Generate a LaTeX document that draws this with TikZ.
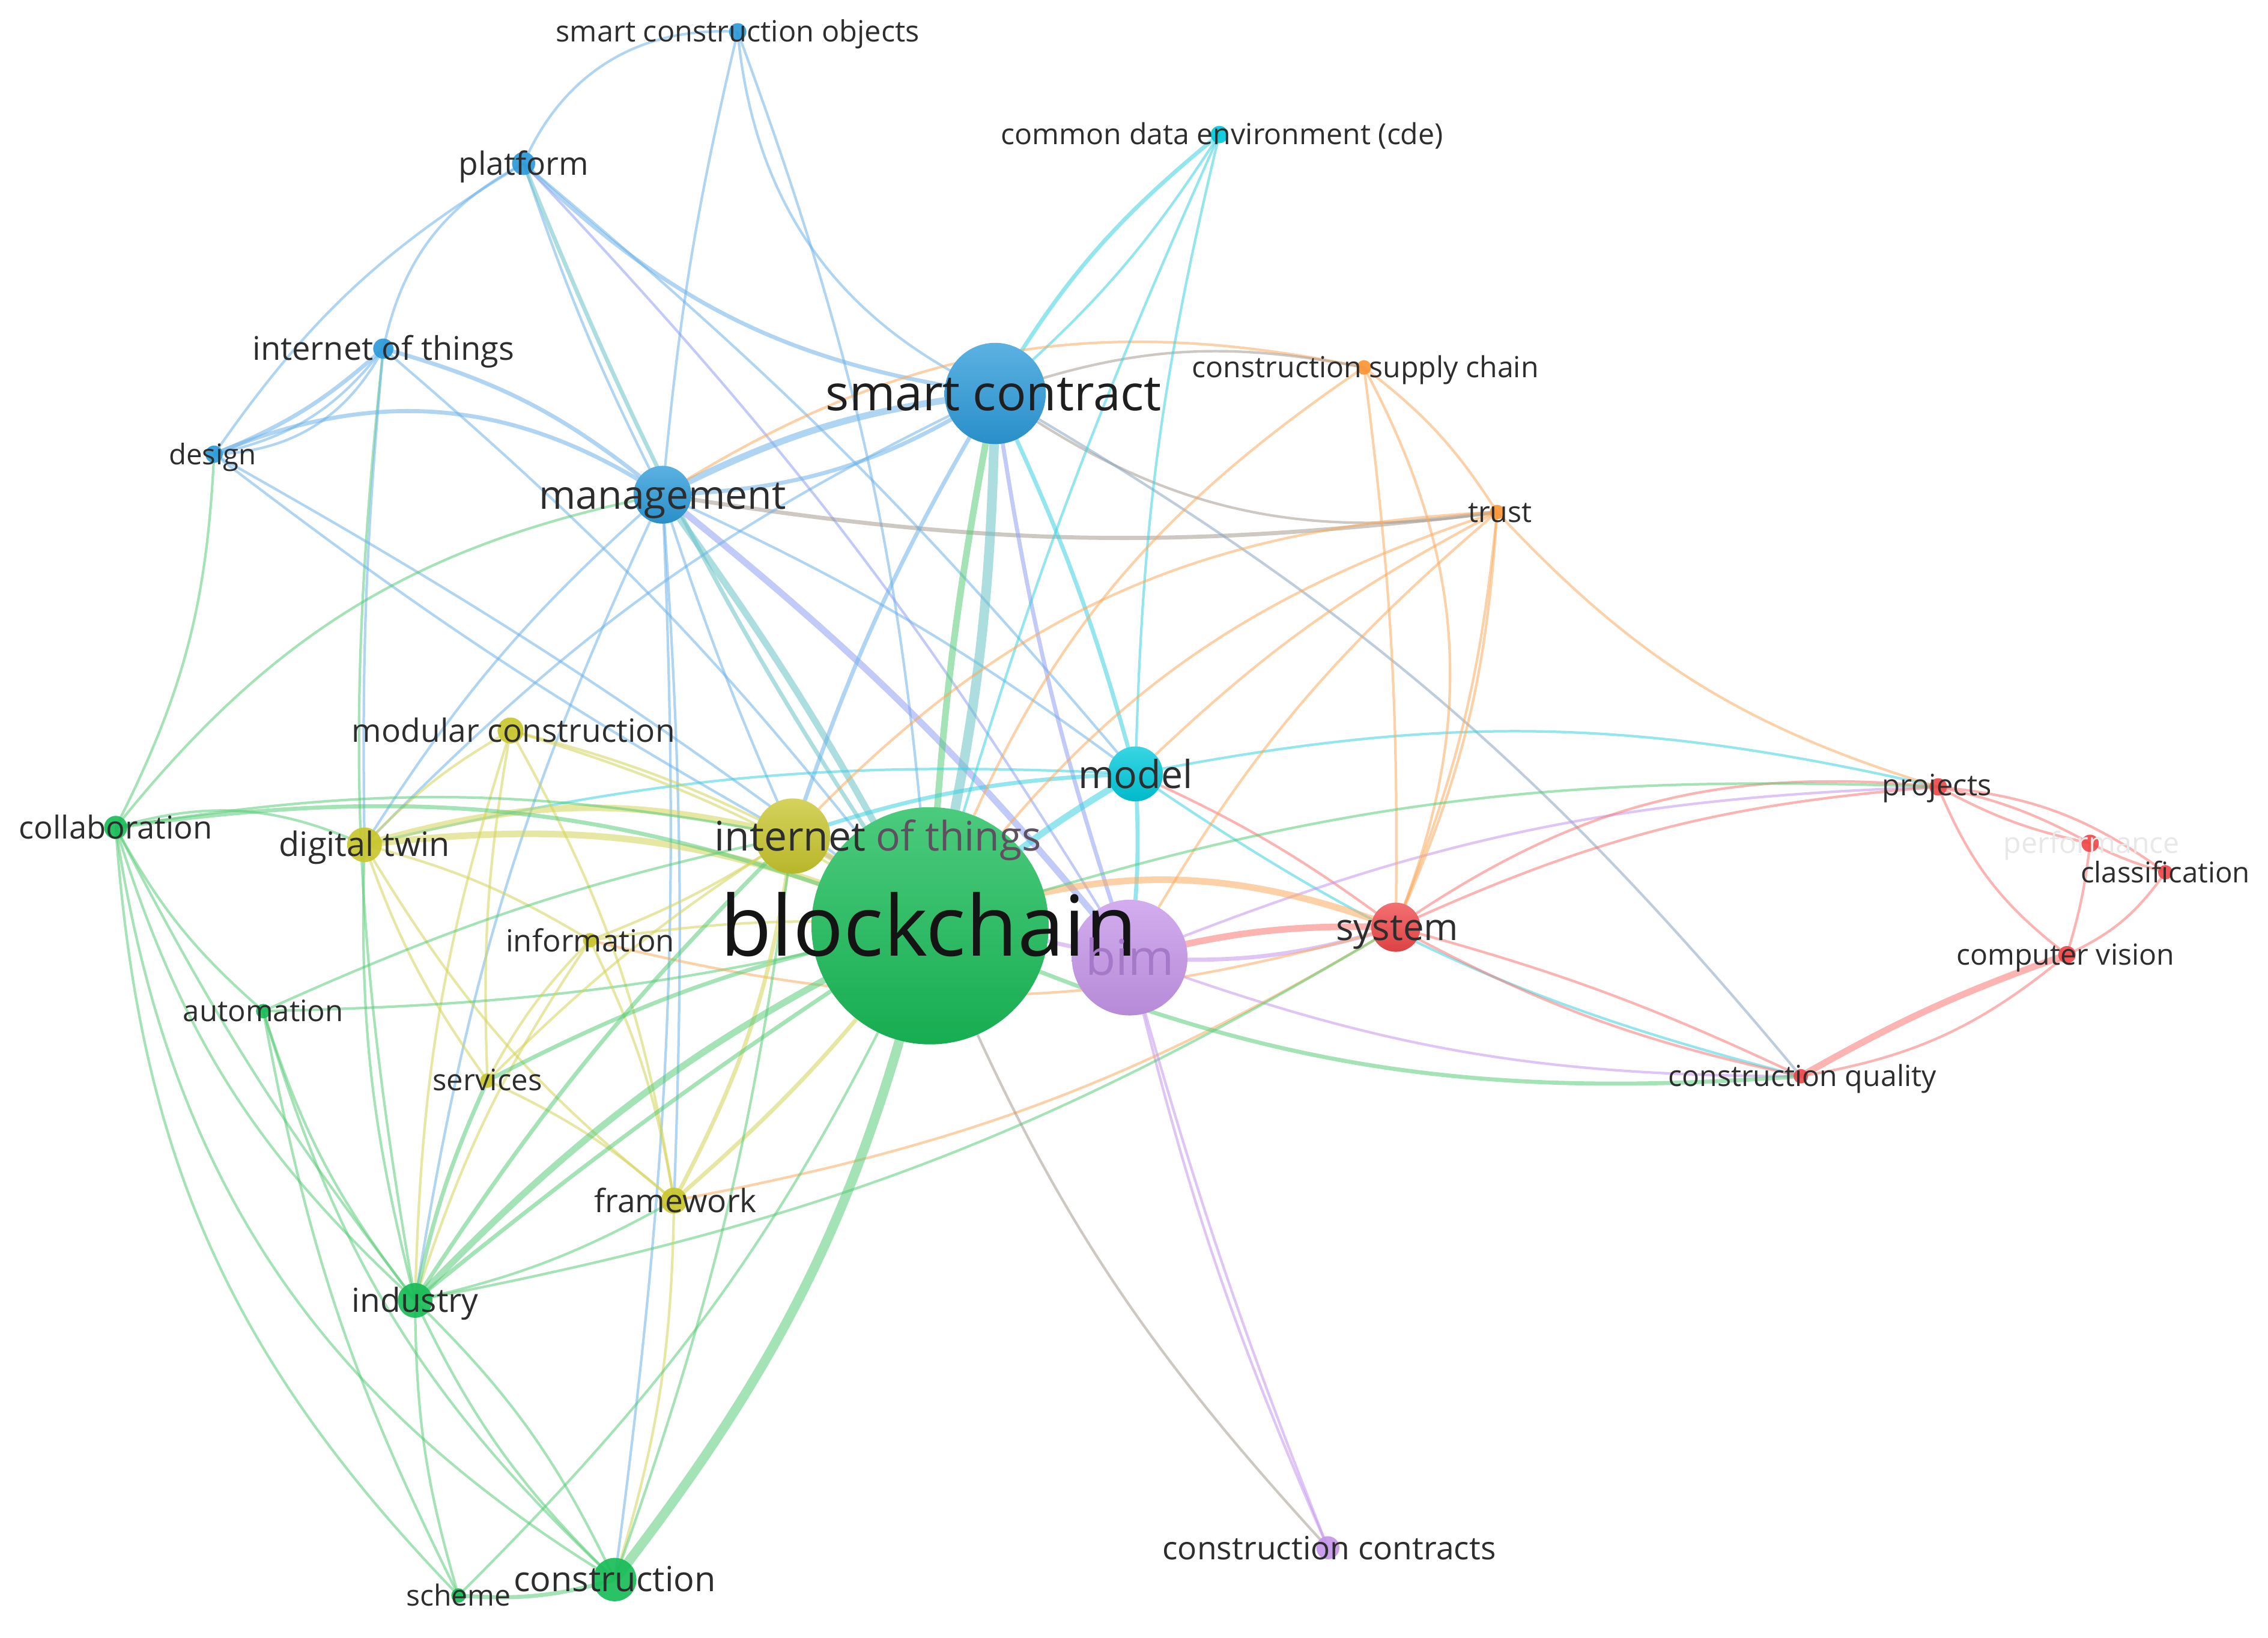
\documentclass[tikz,border=0pt]{standalone}
\usepackage{fontspec}
\setmainfont{Open Sans}
\definecolor{cG}{RGB}{25,188,88}
\definecolor{cB}{RGB}{45,155,218}
\definecolor{cC}{RGB}{0,202,220}
\definecolor{cY}{RGB}{200,198,45}
\definecolor{cP}{RGB}{198,150,234}
\definecolor{cR}{RGB}{240,72,74}
\definecolor{cO}{RGB}{250,150,55}
\definecolor{eB}{RGB}{110,180,232}
\definecolor{eC}{RGB}{60,210,224}
\definecolor{eG}{RGB}{90,204,122}
\definecolor{eY}{RGB}{212,212,90}
\definecolor{eP}{RGB}{195,150,238}
\definecolor{eR}{RGB}{248,120,115}
\definecolor{eO}{RGB}{250,172,95}
\definecolor{eGr}{RGB}{165,155,145}
\definecolor{eT}{RGB}{105,195,200}
\definecolor{eBP}{RGB}{145,162,242}
\definecolor{eSG}{RGB}{135,165,190}
\definecolor{tx}{RGB}{45,45,45}
\newcommand\fs[1]{\fontsize{#1pt}{#1pt}\selectfont}
\newcommand\E[5]{\draw[edge,#3,line width=#4] (#1) to[#5] (#2);}
\begin{document}
\begin{tikzpicture}[x=0.01cm,y=-0.01cm,
  edge/.style={draw opacity=0.55},
  dot/.style={circle,inner sep=0pt,draw=none,fill opacity=0.92},
  ball/.style={circle,inner sep=0pt,draw=none,top color=#1!78!white,bottom color=#1!92!black},
  lab/.style={inner sep=0pt,anchor=base,text=tx}]
\useasboundingbox (0,0) rectangle (1568,1132);
\fill[white] (0,0) rectangle (1568,1132);
% node positions
\coordinate (bc) at (643,640);
\coordinate (sc) at (688,272);
\coordinate (bim) at (781,662);
\coordinate (mg) at (458,342);
\coordinate (iotY) at (548,578);
\coordinate (model) at (785,535);
\coordinate (sys) at (965,641);
\coordinate (dt) at (252,584);
\coordinate (con) at (425,1092);
\coordinate (ind) at (287,899);
\coordinate (mc) at (353,505);
\coordinate (fw) at (466,830);
\coordinate (col) at (80,572);
\coordinate (pl) at (362,113);
\coordinate (iotB) at (265,241);
\coordinate (des) at (148,314);
\coordinate (sco) at (510,22);
\coordinate (cde) at (843,93);
\coordinate (csc) at (943,254);
\coordinate (trust) at (1035,354);
\coordinate (proj) at (1340,544);
\coordinate (perf) at (1445,583);
\coordinate (cls) at (1497,603);
\coordinate (cv) at (1429,660);
\coordinate (cq) at (1245,744);
\coordinate (info) at (408,650);
\coordinate (auto) at (182,699);
\coordinate (serv) at (337,747);
\coordinate (sch) at (317,1103);
\coordinate (cc) at (918,1070);
% ---- edges ----
\def\tn{0.5pt}\def\md{0.8pt}\def\tk{1.3pt}\def\vt{1.9pt}
\E{sco}{pl}{eB}{\tn}{bend right=35}
\E{sco}{sc}{eB}{\tn}{bend right=30}
\E{sco}{mg}{eB}{\tn}{bend right=4}
\E{sco}{bc}{eB}{\tn}{bend left=8}
\E{pl}{iotB}{eB}{\tn}{bend right=25}
\E{pl}{des}{eB}{\tn}{bend right=12}
\E{pl}{sc}{eB}{\md}{bend right=18}
\E{pl}{mg}{eB}{\tn}{bend right=4}
\E{pl}{bc}{eT}{\md}{bend right=6}
\E{pl}{bim}{eBP}{\tn}{bend left=6}
\E{pl}{model}{eB}{\tn}{bend left=5}
\E{iotB}{des}{eB}{\md}{bend left=10}
\E{iotB}{des}{eB}{\tn}{bend left=20}
\E{iotB}{des}{eB}{\tn}{bend left=30}
\E{iotB}{mg}{eB}{\md}{bend left=12}
\E{iotB}{bc}{eB}{\tn}{bend left=6}
\E{iotB}{ind}{eG}{\tn}{bend right=8}
\E{iotB}{dt}{eB}{\tn}{bend right=3}
\E{des}{mg}{eB}{\md}{bend left=28}
\E{des}{bc}{eB}{\tn}{bend left=4}
\E{des}{iotY}{eB}{\tn}{bend right=4}
\E{des}{col}{eG}{\tn}{bend left=12}
\E{mg}{sc}{eB}{\tk}{bend left=10}
\E{mg}{sc}{eB}{\md}{bend right=15}
\E{mg}{bc}{eT}{\tk}{bend left=4}
\E{mg}{bim}{eBP}{\tk}{bend left=6}
\E{mg}{model}{eB}{\tn}{bend left=6}
\E{mg}{trust}{eGr}{\md}{bend right=8}
\E{mg}{iotY}{eB}{\tn}{bend right=3}
\E{mg}{ind}{eB}{\tn}{bend right=8}
\E{mg}{fw}{eB}{\tn}{bend left=3}
\E{mg}{con}{eB}{\tn}{bend left=5}
\E{mg}{dt}{eB}{\tn}{bend right=8}
\E{col}{mg}{eG}{\tn}{bend left=20}
\E{sc}{cde}{eC}{\md}{bend left=10}
\E{sc}{cde}{eC}{\tn}{bend right=8}
\E{sc}{bc}{eT}{\vt}{bend left=6}
\E{bc}{sc}{eG}{\tk}{bend left=4}
\E{sc}{model}{eC}{\md}{bend left=5}
\E{sc}{bim}{eBP}{\md}{bend right=5}
\E{sc}{iotY}{eB}{\md}{bend right=6}
\E{sc}{trust}{eGr}{\tn}{bend right=22}
\E{sc}{cq}{eSG}{\tn}{bend left=10}
\E{sc}{dt}{eB}{\tn}{bend right=10}
\E{csc}{mg}{eO}{\tn}{bend right=22}
\E{csc}{sc}{eGr}{\tn}{bend right=15}
\E{cde}{model}{eC}{\tn}{bend right=6}
\E{cde}{bc}{eC}{\tn}{bend right=4}
\E{model}{bc}{eC}{\tk}{bend right=6}
\E{model}{bim}{eC}{\md}{bend left=5}
\E{model}{iotY}{eC}{\md}{bend right=8}
\E{model}{sys}{eR}{\tn}{bend left=6}
\E{model}{proj}{eC}{\tn}{bend left=12}
\E{model}{cq}{eC}{\tn}{bend right=10}
\E{model}{dt}{eC}{\tn}{bend right=8}
\E{bim}{sys}{eR}{\tk}{bend left=8}
\E{bim}{sys}{eP}{\md}{bend right=10}
\E{bim}{cq}{eP}{\tn}{bend right=10}
\E{bim}{cc}{eP}{\tn}{bend right=5}
\E{bim}{proj}{eP}{\tn}{bend left=10}
\E{bim}{iotY}{eP}{\md}{bend left=10}
\E{bim}{trust}{eO}{\tn}{bend left=10}
\E{sys}{proj}{eR}{\tn}{bend left=10}
\E{sys}{proj}{eR}{\tn}{bend left=20}
\E{sys}{cq}{eR}{\tn}{bend right=8}
\E{sys}{cq}{eR}{\tn}{bend left=5}
\E{sys}{trust}{eO}{\tn}{bend right=10}
\E{sys}{csc}{eO}{\tn}{bend right=4}
\E{csc}{sys}{eO}{\tn}{bend left=25}
\E{sys}{bc}{eO}{\tk}{bend right=20}
\E{sys}{fw}{eO}{\tn}{bend left=10}
\E{ind}{sys}{eG}{\tn}{bend right=10}
\E{proj}{perf}{eR}{\tn}{bend right=8}
\E{proj}{perf}{eR}{\tn}{bend left=8}
\E{proj}{cls}{eR}{\tn}{bend left=15}
\E{proj}{cv}{eR}{\tn}{bend right=15}
\E{trust}{proj}{eO}{\tn}{bend right=15}
\E{csc}{trust}{eO}{\tn}{bend left=10}
\E{csc}{bc}{eO}{\tn}{bend right=18}
\E{trust}{bc}{eO}{\tn}{bend right=18}
\E{trust}{iotY}{eO}{\tn}{bend right=22}
\E{trust}{model}{eO}{\tn}{bend right=8}
\E{trust}{sys}{eO}{\tn}{bend left=8}
\E{cv}{cq}{eR}{\tk}{bend right=5}
\E{cv}{cq}{eR}{\tn}{bend left=15}
\E{cv}{cls}{eR}{\tn}{bend right=15}
\E{cls}{perf}{eR}{\tn}{bend left=5}
\E{cv}{perf}{eR}{\tn}{bend right=5}
\E{bc}{cq}{eG}{\md}{bend right=14}
\E{bc}{proj}{eG}{\tn}{bend left=10}
\E{iotY}{bc}{eY}{\tk}{bend left=5}
\E{iotY}{dt}{eY}{\tk}{bend right=15}
\E{dt}{bc}{eY}{\tk}{bend left=15}
\E{dt}{info}{eY}{\tn}{bend left=8}
\E{dt}{fw}{eY}{\tn}{bend right=10}
\E{dt}{serv}{eY}{\tn}{bend right=8}
\E{dt}{ind}{eG}{\tn}{bend right=8}
\E{dt}{mc}{eY}{\tn}{bend left=8}
\E{col}{dt}{eG}{\tn}{bend left=20}
\E{mc}{bc}{eY}{\tn}{bend left=8}
\E{mc}{iotY}{eY}{\tn}{bend left=6}
\E{mc}{fw}{eY}{\tn}{bend left=10}
\E{mc}{serv}{eY}{\tn}{bend right=6}
\E{mc}{ind}{eY}{\tn}{bend right=8}
\E{col}{bc}{eG}{\md}{bend left=15}
\E{col}{iotY}{eG}{\tn}{bend left=10}
\E{col}{auto}{eG}{\tn}{bend right=10}
\E{col}{ind}{eG}{\tn}{bend right=15}
\E{col}{ind}{eG}{\tn}{bend right=5}
\E{col}{con}{eG}{\tn}{bend right=25}
\E{col}{sch}{eG}{\tn}{bend right=20}
\E{auto}{bc}{eG}{\tn}{bend right=6}
\E{auto}{iotY}{eG}{\tn}{bend left=6}
\E{auto}{ind}{eG}{\tn}{bend right=10}
\E{auto}{con}{eG}{\tn}{bend right=15}
\E{auto}{sch}{eG}{\tn}{bend right=8}
\E{info}{bc}{eY}{\tn}{bend left=6}
\E{info}{fw}{eY}{\tn}{bend left=8}
\E{info}{iotY}{eY}{\tn}{bend right=6}
\E{info}{serv}{eY}{\tn}{bend right=8}
\E{info}{ind}{eY}{\tn}{bend right=8}
\E{info}{sys}{eO}{\tn}{bend right=15}
\E{serv}{bc}{eG}{\md}{bend left=8}
\E{serv}{iotY}{eY}{\tn}{bend left=6}
\E{serv}{ind}{eG}{\md}{bend right=6}
\E{serv}{fw}{eY}{\tn}{bend left=8}
\E{fw}{bc}{eY}{\md}{bend right=6}
\E{fw}{iotY}{eY}{\md}{bend right=10}
\E{fw}{ind}{eG}{\tn}{bend left=8}
\E{fw}{con}{eY}{\tn}{bend left=8}
\E{ind}{bc}{eG}{\tk}{bend left=10}
\E{ind}{bc}{eG}{\md}{bend left=3}
\E{ind}{iotY}{eG}{\md}{bend left=6}
\E{ind}{con}{eG}{\tn}{bend right=10}
\E{ind}{con}{eG}{\tn}{bend left=10}
\E{ind}{sch}{eG}{\tn}{bend right=8}
\E{con}{bc}{eG}{\vt}{bend right=12}
\E{con}{sch}{eG}{\md}{bend left=10}
\E{con}{iotY}{eG}{\tn}{bend right=6}
\E{sch}{bc}{eG}{\tn}{bend right=10}
\E{cc}{bc}{eGr}{\tn}{bend left=10}
\E{cc}{bim}{eP}{\tn}{bend left=3}
% ---- node circles ----
\node[ball=cB,minimum size=70*0.01cm] (scC) at (sc) {};
\node[ball=cB,minimum size=40*0.01cm] (mgC) at (mg) {};
\node[ball=cC,minimum size=38*0.01cm] (modelC) at (model) {};
\node[ball=cY,minimum size=52*0.01cm] (iotYC) at (iotY) {};
\node[ball=cG,minimum size=164*0.01cm] (bcC) at (bc) {};
\node[ball=cP,minimum size=80*0.01cm] (bimC) at (bim) {};
\node[ball=cR,minimum size=34*0.01cm] (sysC) at (sys) {};
\node[dot,fill=cY,minimum size=24*0.01cm] (dtC) at (dt) {};
\node[dot,fill=cG,minimum size=30*0.01cm] (conC) at (con) {};
\node[dot,fill=cG,minimum size=24*0.01cm] (indC) at (ind) {};
\node[dot,fill=cY,minimum size=18*0.01cm] (mcC) at (mc) {};
\node[dot,fill=cY,minimum size=18*0.01cm] (fwC) at (fw) {};
\node[dot,fill=cG,minimum size=16*0.01cm] (colC) at (col) {};
\node[dot,fill=cB,minimum size=16*0.01cm] (plC) at (pl) {};
\node[dot,fill=cB,minimum size=14*0.01cm] (iotBC) at (iotB) {};
\node[dot,fill=cB,minimum size=12*0.01cm] (desC) at (des) {};
\node[dot,fill=cB,minimum size=12*0.01cm] (scoC) at (sco) {};
\node[dot,fill=cC,minimum size=12*0.01cm] (cdeC) at (cde) {};
\node[dot,fill=cO,minimum size=10*0.01cm] (cscC) at (csc) {};
\node[dot,fill=cO,minimum size=10*0.01cm] (trustC) at (trust) {};
\node[dot,fill=cR,minimum size=12*0.01cm] (projC) at (proj) {};
\node[dot,fill=cR,minimum size=12*0.01cm] (perfC) at (perf) {};
\node[dot,fill=cR,minimum size=10*0.01cm] (clsC) at (cls) {};
\node[dot,fill=cR,minimum size=12*0.01cm] (cvC) at (cv) {};
\node[dot,fill=cR,minimum size=10*0.01cm] (cqC) at (cq) {};
\node[dot,fill=cY,minimum size=10*0.01cm] (infoC) at (info) {};
\node[dot,fill=cG,minimum size=10*0.01cm] (autoC) at (auto) {};
\node[dot,fill=cY,minimum size=10*0.01cm] (servC) at (serv) {};
\node[dot,fill=cG,minimum size=10*0.01cm] (schC) at (sch) {};
\node[dot,fill=cP,minimum size=16*0.01cm] (ccC) at (cc) {};
% ---- labels ----
\node[lab,font=\fs{16.5},text=black!92] (Lbc) at (642,661) {blockchain};
\node[lab,font=\fs{9.7},text=black!88] (Lsc) at (687,284) {smart contract};
\node[lab,font=\fs{9.7},text={rgb,255:red,165;green,120;blue,200}] (Lbim) at (781,674) {bim};
\node[lab,font=\fs{7.8}] (Lmg) at (458,352) {management};
\node[lab,font=\fs{8.0}] (LiotY) at (607,588) {internet \textcolor[RGB]{95,80,95}{of things}};
\node[lab,font=\fs{7.6}] (Lmodel) at (785,545) {model};
\node[lab,font=\fs{7.3}] (Lsys) at (966,650) {system};
\node[lab,font=\fs{6.6}] (Ldt) at (252,592) {digital twin};
\node[lab,font=\fs{6.8}] (Lcon) at (425,1100) {construction};
\node[lab,font=\fs{6.5}] (Lind) at (287,907) {industry};
\node[lab,font=\fs{6.2}] (Lcol) at (80,580) {collaboration};
\node[lab,font=\fs{6.3}] (Lfw) at (467,838) {framework};
\node[lab,font=\fs{6.3}] (Lmc) at (355,513) {modular construction};
\node[lab,font=\fs{6.3}] (Lpl) at (362,121) {platform};
\node[lab,font=\fs{6.4}] (LiotB) at (265,249) {internet of things};
\node[lab,font=\fs{6.3}] (Lcc) at (919,1078) {construction contracts};
\node[lab,font=\fs{6.0}] (Linfo) at (408,658) {information};
\node[lab,font=\fs{5.8}] (Lauto) at (182,706) {automation};
\node[lab,font=\fs{5.8}] (Lserv) at (337,754) {services};
\node[lab,font=\fs{5.7}] (Lsch) at (317,1110) {scheme};
\node[lab,font=\fs{5.75}] (Lsco) at (510,29) {smart construction objects};
\node[lab,font=\fs{5.7}] (Lcde) at (845,100) {common data environment (cde)};
\node[lab,font=\fs{5.7}] (Lcsc) at (944,261) {construction supply chain};
\node[lab,font=\fs{5.7}] (Ltrust) at (1037,361) {trust};
\node[lab,font=\fs{5.6}] (Ldes) at (147,321) {design};
\node[lab,font=\fs{5.8}] (Lproj) at (1339,550) {projects};
\node[lab,font=\fs{5.7},text={rgb,255:red,232;green,232;blue,232}] (Lperf) at (1446,590) {performance};
\node[lab,font=\fs{5.6}] (Lcls) at (1497,610) {classification};
\node[lab,font=\fs{5.7}] (Lcv) at (1428,667) {computer vision};
\node[lab,font=\fs{5.7}] (Lcq) at (1246,751) {construction quality};
\end{tikzpicture}
\end{document}
